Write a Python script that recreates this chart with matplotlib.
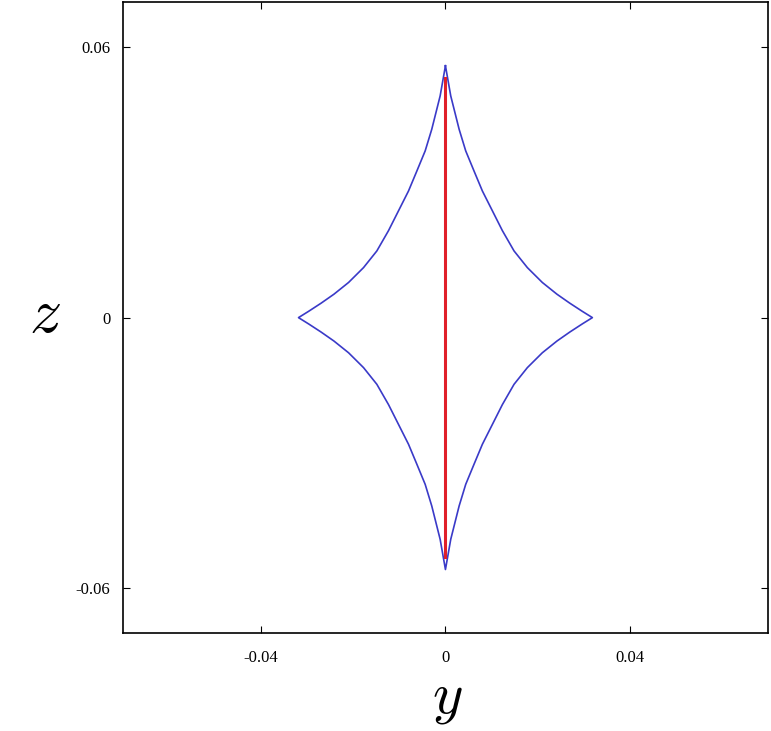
import numpy as np
import matplotlib
matplotlib.use("Agg")
import matplotlib.pyplot as plt

# caustic, upper-left quadrant (|y|, z), from top cusp to side cusp
quad_y = [0.0, 0.00115, 0.00297, 0.00440, 0.00622, 0.00802, 0.01019, 0.01236,
          0.01489, 0.01778, 0.02103, 0.02420, 0.0270, 0.0297, 0.0319]
quad_z = [0.0559, 0.0492, 0.0418, 0.0370, 0.0325, 0.0281, 0.0237, 0.0193,
          0.0148, 0.0111, 0.0078, 0.0052, 0.0032, 0.0014, 0.0]

# red segment along y = 0
seg_y = [0.0, 0.0]
seg_z = [-0.0531, 0.0531]

xticks = [-0.04, 0, 0.04]
yticks = [-0.06, 0, 0.06]
xtick_labels = ["-0.04", "0", "0.04"]
ytick_labels = ["-0.06", "0", "0.06"]

qy = np.array(quad_y)
qz = np.array(quad_z)
# go round: top -> left -> bottom -> right -> top, mirroring the quadrant
cy = np.concatenate([-qy, -qy[::-1], qy, qy[::-1]])
cz = np.concatenate([qz, -qz[::-1], -qz, qz[::-1]])

plt.rcParams["mathtext.fontset"] = "cm"
fig = plt.figure(figsize=(7.71, 7.31), dpi=100)
ax = fig.add_axes([0.1595, 0.134, 0.8365, 0.863])

ax.plot(cy, cz, color="#3a3ac8", lw=1.2)
ax.plot(seg_y, seg_z, color="#e0202a", lw=2.2)

ax.set_xlim(-0.07, 0.07)
ax.set_ylim(-0.07, 0.07)
ax.set_xticks(xticks)
ax.set_xticklabels(xtick_labels, family="Liberation Serif", fontsize=12)
ax.set_yticks(yticks)
ax.set_yticklabels(ytick_labels, family="Liberation Serif", fontsize=12)
ax.tick_params(direction="in", length=5, width=0.8, top=True, right=True)
ax.tick_params(axis="x", pad=12)
ax.tick_params(axis="y", pad=9)
for s in ax.spines.values():
    s.set_linewidth(1.2)

fig.text(45 / 771, 1 - 314 / 731, r"$z$", fontsize=46, ha="center", va="center")
fig.text(447 / 771, 1 - 697 / 731, r"$y$", fontsize=42, ha="center", va="center")

fig.savefig("out.png", dpi=100)
